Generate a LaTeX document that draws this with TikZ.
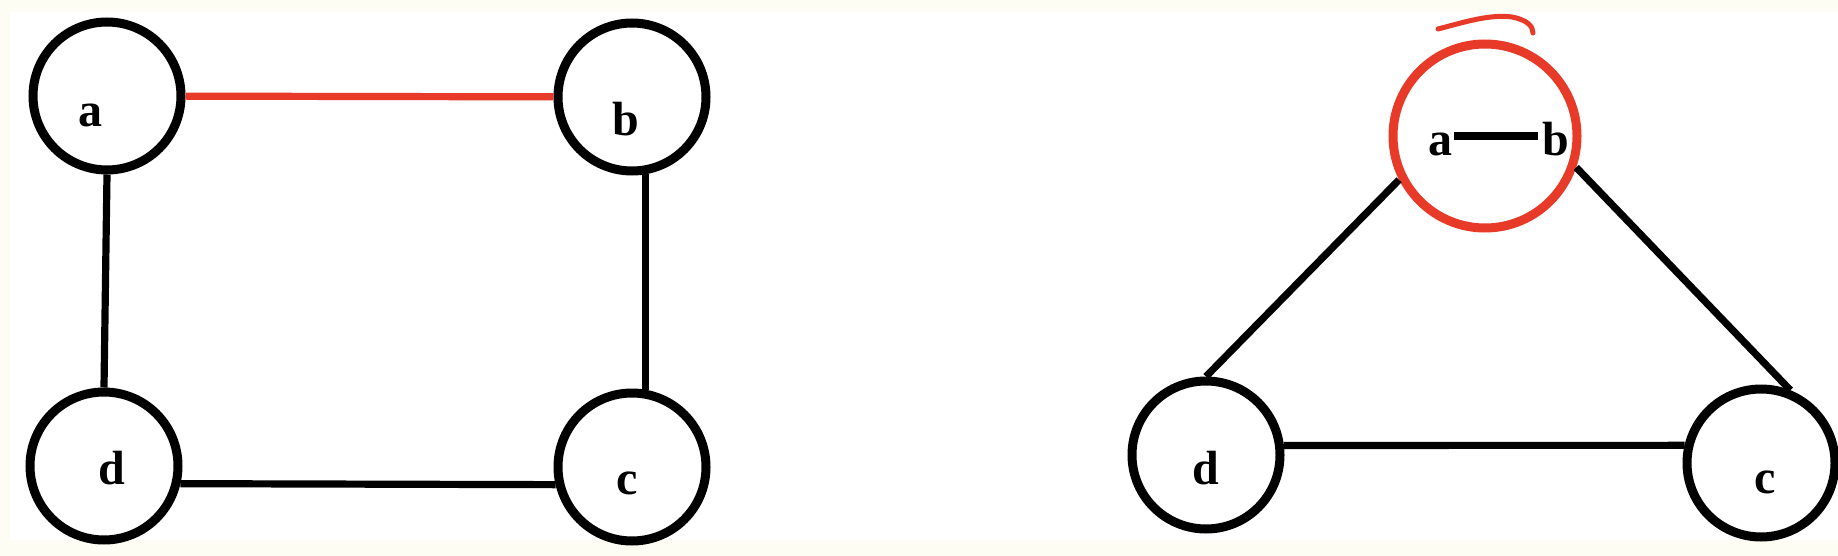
\documentclass[tikz,border=0pt]{standalone}
\usepackage{fontspec}
\setmainfont{Liberation Serif}
\definecolor{penred}{RGB}{232,58,40}
\definecolor{paper}{RGB}{253,253,244}
\tikzset{
  vertex/.style={draw,circle,line width=4.5pt,minimum size=74pt,inner sep=0pt},
  merged/.style={vertex,draw=penred,minimum size=92pt},
  letter/.style={font=\fontsize{24}{24}\selectfont\bfseries,inner sep=0pt},
  link/.style={line width=3.6pt},
  redlink/.style={link,draw=penred},
}

\begin{document}
\begin{tikzpicture}[x=0.5pt,y=-0.5pt]
    % Background
    \fill[paper] (0,0) rectangle (1838,556);
    \fill[white] (10,12) rectangle (1838,540);
    \useasboundingbox (0,0) rectangle (1838,556);
    % Definitions
    \coordinate (LA) at (107,96);
    \coordinate (LB) at (632,97);
    \coordinate (LD) at (104,466);
    \coordinate (LC) at (632,467);
    \coordinate (RAB) at (1485,136);
    \coordinate (RD)  at (1206,455);
    \coordinate (RC)  at (1761,463);
    % Nodes (left graph)
    \node(VeA) at (LA) [vertex] {};
    \node(VeB) at (LB) [vertex] {};
    \node(VeD) at (LD) [vertex] {};
    \node(VeC) at (LC) [vertex] {};
    \node(LeA) at (90,115)  [letter] {a};
    \node(LeB) at (626,119) [letter] {b};
    \node(LeD) at (112,468) [letter] {d};
    \node(LeC) at (627,483) [letter] {c};
    % Nodes (right graph)
    \node(VeAB) at (RAB) [merged] {};
    \node(VeRD) at (RD)  [vertex] {};
    \node(VeRC) at (RC)  [vertex] {};
    \node(LeRA) at (1440,144) [letter] {a};
    \node(LeRB) at (1556,139) [letter] {b};
    \node(LeRD) at (1206,468) [letter] {d};
    \node(LeRC) at (1765,482) [letter] {c};
    % Edges (left graph)
    \draw[redlink] (VeA) -- (VeB);
    \draw[link] (VeA.south) -- (VeD.north);
    \draw[link] (VeB.-80) -- (VeC.80);
    \draw[link] (VeD.-13) -- (VeC.193);
    % Edges (right graph)
    \draw[link,line width=4pt,shorten <=1pt,shorten >=2pt] (LeRA.east |- RAB) -- (LeRB.west |- RAB);
    \draw[link] (VeAB.207) -- (VeRD.north);
    \draw[link] (VeAB.-19) -- (VeRC.68);
    \draw[link] (VeRD.7) -- (VeRC.167);
    % Mark above the merged vertex
    \draw[draw=penred,line width=2.5pt,line cap=round]
        (1438,29) .. controls (1465,22) and (1490,14) .. (1512,17)
        .. controls (1527,20) and (1533,26) .. (1533,33);
\end{tikzpicture}
\end{document}
